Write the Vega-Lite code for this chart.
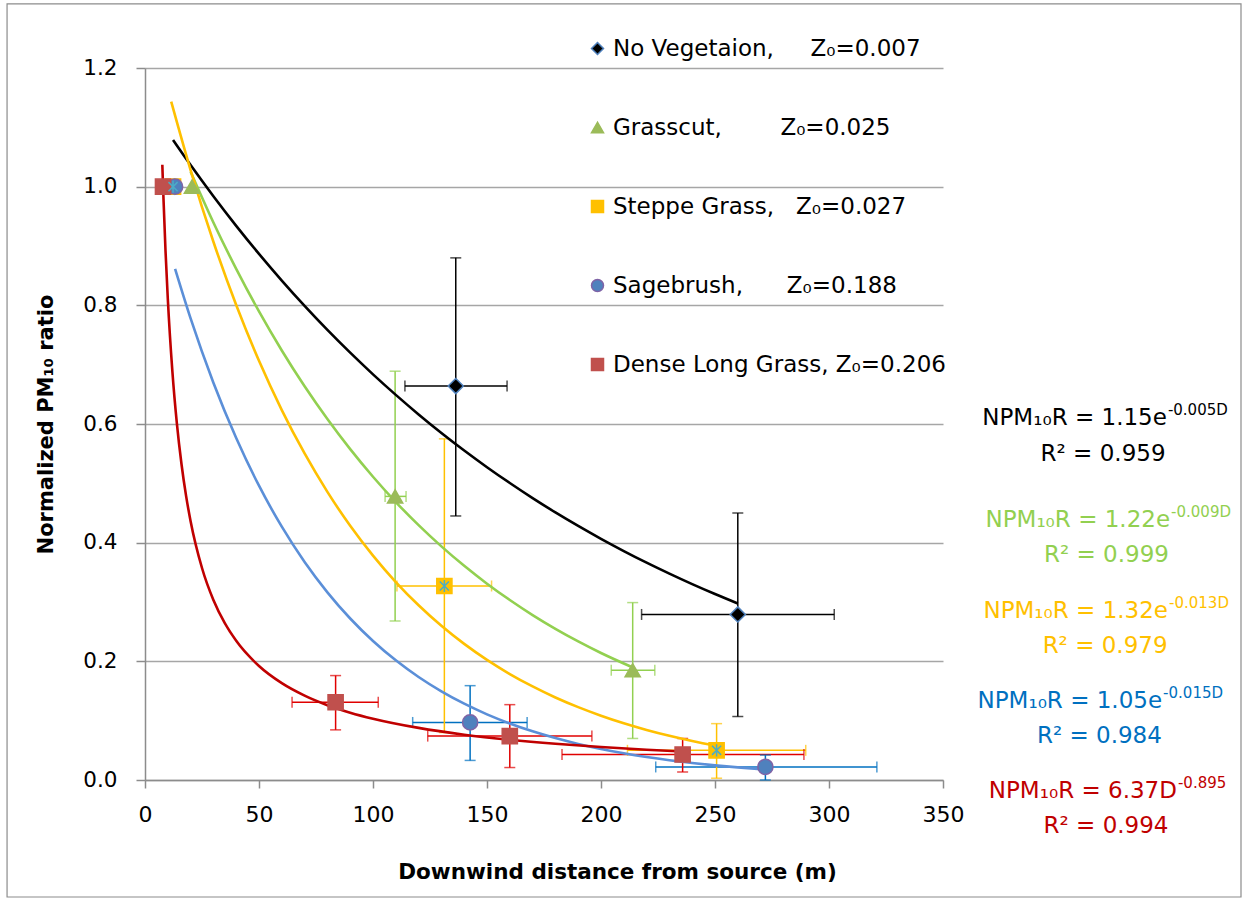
{
  "$schema": "https://vega.github.io/schema/vega-lite/v6.json",
  "width": 798,
  "height": 712,
  "autosize": {"type": "none"},
  "padding": {"left": 145, "top": 68, "right": 307, "bottom": 127},
  "background": "white",
  "config": {
    "view": {"stroke": null},
    "font": "DejaVu Sans",
    "axis": {"domainColor": "#8C8C8C", "tickColor": "#8C8C8C", "gridColor": "#A6A6A6", "gridWidth": 1.5, "domainWidth": 1.5, "tickWidth": 1.5, "labelColor": "#000000", "titleColor": "#000000"}
  },
  "datasets": {
    "pts": [
      {"series": "No Vegetaion", "x": 12.8, "y": 1.0},
      {"series": "No Vegetaion", "x": 136.3, "y": 0.664, "xlo": 114, "xhi": 158.8, "ylo": 0.445, "yhi": 0.88},
      {"series": "No Vegetaion", "x": 260, "y": 0.279, "xlo": 217.8, "xhi": 302.3, "ylo": 0.107, "yhi": 0.45},
      {"series": "Grasscut", "x": 20.6, "y": 1.0},
      {"series": "Grasscut", "x": 109.7, "y": 0.478, "xlo": 105.3, "xhi": 114.5, "ylo": 0.268, "yhi": 0.689},
      {"series": "Grasscut", "x": 213.9, "y": 0.185, "xlo": 204.5, "xhi": 223.6, "ylo": 0.07, "yhi": 0.299},
      {"series": "Steppe Grass", "x": 12.3, "y": 1.0},
      {"series": "Steppe Grass", "x": 131.3, "y": 0.327, "xlo": 110.5, "xhi": 152, "ylo": 0.08, "yhi": 0.575},
      {"series": "Steppe Grass", "x": 250.7, "y": 0.05, "xlo": 211.6, "xhi": 289.8, "ylo": 0.003, "yhi": 0.095},
      {"series": "Sagebrush", "x": 13.2, "y": 1.0},
      {"series": "Sagebrush", "x": 142.6, "y": 0.097, "xlo": 117.4, "xhi": 167.6, "ylo": 0.033, "yhi": 0.159},
      {"series": "Sagebrush", "x": 272.1, "y": 0.022, "xlo": 224, "xhi": 321, "ylo": 0.0, "yhi": 0.042},
      {"series": "Dense Long Grass", "x": 7.9, "y": 1.0},
      {"series": "Dense Long Grass", "x": 83.6, "y": 0.131, "xlo": 64.5, "xhi": 102.3, "ylo": 0.0845, "yhi": 0.176},
      {"series": "Dense Long Grass", "x": 160, "y": 0.074, "xlo": 124, "xhi": 196, "ylo": 0.021, "yhi": 0.127},
      {"series": "Dense Long Grass", "x": 235.8, "y": 0.043, "xlo": 182.9, "xhi": 289, "ylo": 0.0135, "yhi": 0.07}
    ],
    "fit": [
      {"series": "No Vegetaion", "x": 12.3, "y": 1.0787}, {"series": "No Vegetaion", "x": 20, "y": 1.0364}, {"series": "No Vegetaion", "x": 30, "y": 0.9839}, {"series": "No Vegetaion", "x": 40, "y": 0.934}, {"series": "No Vegetaion", "x": 50, "y": 0.8867}, {"series": "No Vegetaion", "x": 60, "y": 0.8418}, {"series": "No Vegetaion", "x": 70, "y": 0.7991}, {"series": "No Vegetaion", "x": 80, "y": 0.7586}, {"series": "No Vegetaion", "x": 90, "y": 0.7202}, {"series": "No Vegetaion", "x": 100, "y": 0.6837}, {"series": "No Vegetaion", "x": 110, "y": 0.6491}, {"series": "No Vegetaion", "x": 120, "y": 0.6162}, {"series": "No Vegetaion", "x": 130, "y": 0.5849}, {"series": "No Vegetaion", "x": 140, "y": 0.5553}, {"series": "No Vegetaion", "x": 150, "y": 0.5272}, {"series": "No Vegetaion", "x": 160, "y": 0.5005}, {"series": "No Vegetaion", "x": 170, "y": 0.4751}, {"series": "No Vegetaion", "x": 180, "y": 0.451}, {"series": "No Vegetaion", "x": 190, "y": 0.4282}, {"series": "No Vegetaion", "x": 200, "y": 0.4065}, {"series": "No Vegetaion", "x": 210, "y": 0.3859}, {"series": "No Vegetaion", "x": 220, "y": 0.3663}, {"series": "No Vegetaion", "x": 230, "y": 0.3478}, {"series": "No Vegetaion", "x": 240, "y": 0.3301}, {"series": "No Vegetaion", "x": 250, "y": 0.3134}, {"series": "No Vegetaion", "x": 260, "y": 0.2975},
      {"series": "Grasscut", "x": 20, "y": 1.0252}, {"series": "Grasscut", "x": 30, "y": 0.9397}, {"series": "Grasscut", "x": 40, "y": 0.8614}, {"series": "Grasscut", "x": 50, "y": 0.7897}, {"series": "Grasscut", "x": 60, "y": 0.7239}, {"series": "Grasscut", "x": 70, "y": 0.6635}, {"series": "Grasscut", "x": 80, "y": 0.6083}, {"series": "Grasscut", "x": 90, "y": 0.5576}, {"series": "Grasscut", "x": 100, "y": 0.5111}, {"series": "Grasscut", "x": 110, "y": 0.4685}, {"series": "Grasscut", "x": 120, "y": 0.4295}, {"series": "Grasscut", "x": 130, "y": 0.3937}, {"series": "Grasscut", "x": 140, "y": 0.3609}, {"series": "Grasscut", "x": 150, "y": 0.3308}, {"series": "Grasscut", "x": 160, "y": 0.3033}, {"series": "Grasscut", "x": 170, "y": 0.278}, {"series": "Grasscut", "x": 180, "y": 0.2548}, {"series": "Grasscut", "x": 190, "y": 0.2336}, {"series": "Grasscut", "x": 200, "y": 0.2141}, {"series": "Grasscut", "x": 214, "y": 0.1896},
      {"series": "Steppe Grass", "x": 11.5, "y": 1.1433}, {"series": "Steppe Grass", "x": 20, "y": 1.028}, {"series": "Steppe Grass", "x": 30, "y": 0.9072}, {"series": "Steppe Grass", "x": 40, "y": 0.8006}, {"series": "Steppe Grass", "x": 50, "y": 0.7065}, {"series": "Steppe Grass", "x": 60, "y": 0.6235}, {"series": "Steppe Grass", "x": 70, "y": 0.5503}, {"series": "Steppe Grass", "x": 80, "y": 0.4856}, {"series": "Steppe Grass", "x": 90, "y": 0.4285}, {"series": "Steppe Grass", "x": 100, "y": 0.3782}, {"series": "Steppe Grass", "x": 110, "y": 0.3337}, {"series": "Steppe Grass", "x": 120, "y": 0.2945}, {"series": "Steppe Grass", "x": 130, "y": 0.2599}, {"series": "Steppe Grass", "x": 140, "y": 0.2294}, {"series": "Steppe Grass", "x": 150, "y": 0.2024}, {"series": "Steppe Grass", "x": 160, "y": 0.1786}, {"series": "Steppe Grass", "x": 170, "y": 0.1577}, {"series": "Steppe Grass", "x": 180, "y": 0.1391}, {"series": "Steppe Grass", "x": 190, "y": 0.1228}, {"series": "Steppe Grass", "x": 200, "y": 0.1084}, {"series": "Steppe Grass", "x": 210, "y": 0.0956}, {"series": "Steppe Grass", "x": 220, "y": 0.0844}, {"series": "Steppe Grass", "x": 230, "y": 0.0745}, {"series": "Steppe Grass", "x": 240, "y": 0.0657}, {"series": "Steppe Grass", "x": 251, "y": 0.0573},
      {"series": "Sagebrush", "x": 13.2, "y": 0.8614}, {"series": "Sagebrush", "x": 20, "y": 0.7779}, {"series": "Sagebrush", "x": 30, "y": 0.6695}, {"series": "Sagebrush", "x": 40, "y": 0.5763}, {"series": "Sagebrush", "x": 50, "y": 0.496}, {"series": "Sagebrush", "x": 60, "y": 0.4269}, {"series": "Sagebrush", "x": 70, "y": 0.3674}, {"series": "Sagebrush", "x": 80, "y": 0.3163}, {"series": "Sagebrush", "x": 90, "y": 0.2722}, {"series": "Sagebrush", "x": 100, "y": 0.2343}, {"series": "Sagebrush", "x": 110, "y": 0.2017}, {"series": "Sagebrush", "x": 120, "y": 0.1736}, {"series": "Sagebrush", "x": 130, "y": 0.1494}, {"series": "Sagebrush", "x": 140, "y": 0.1286}, {"series": "Sagebrush", "x": 150, "y": 0.1107}, {"series": "Sagebrush", "x": 160, "y": 0.0953}, {"series": "Sagebrush", "x": 170, "y": 0.082}, {"series": "Sagebrush", "x": 180, "y": 0.0706}, {"series": "Sagebrush", "x": 190, "y": 0.0607}, {"series": "Sagebrush", "x": 200, "y": 0.0523}, {"series": "Sagebrush", "x": 210, "y": 0.045}, {"series": "Sagebrush", "x": 220, "y": 0.0387}, {"series": "Sagebrush", "x": 230, "y": 0.0333}, {"series": "Sagebrush", "x": 240, "y": 0.0287}, {"series": "Sagebrush", "x": 250, "y": 0.0247}, {"series": "Sagebrush", "x": 260, "y": 0.0213}, {"series": "Sagebrush", "x": 272, "y": 0.0178},
      {"series": "Dense Long Grass", "x": 7.6, "y": 1.037}, {"series": "Dense Long Grass", "x": 8, "y": 0.9906}, {"series": "Dense Long Grass", "x": 9, "y": 0.8915}, {"series": "Dense Long Grass", "x": 10, "y": 0.8112}, {"series": "Dense Long Grass", "x": 12, "y": 0.6891}, {"series": "Dense Long Grass", "x": 14, "y": 0.6002}, {"series": "Dense Long Grass", "x": 16, "y": 0.5326}, {"series": "Dense Long Grass", "x": 18, "y": 0.4793}, {"series": "Dense Long Grass", "x": 20, "y": 0.4362}, {"series": "Dense Long Grass", "x": 25, "y": 0.3573}, {"series": "Dense Long Grass", "x": 30, "y": 0.3034}, {"series": "Dense Long Grass", "x": 35, "y": 0.2643}, {"series": "Dense Long Grass", "x": 40, "y": 0.2345}, {"series": "Dense Long Grass", "x": 50, "y": 0.1921}, {"series": "Dense Long Grass", "x": 60, "y": 0.1632}, {"series": "Dense Long Grass", "x": 70, "y": 0.1422}, {"series": "Dense Long Grass", "x": 80, "y": 0.1261}, {"series": "Dense Long Grass", "x": 90, "y": 0.1135}, {"series": "Dense Long Grass", "x": 100, "y": 0.1033}, {"series": "Dense Long Grass", "x": 120, "y": 0.0878}, {"series": "Dense Long Grass", "x": 140, "y": 0.0764}, {"series": "Dense Long Grass", "x": 160, "y": 0.0678}, {"series": "Dense Long Grass", "x": 180, "y": 0.061}, {"series": "Dense Long Grass", "x": 200, "y": 0.0555}, {"series": "Dense Long Grass", "x": 220, "y": 0.051}, {"series": "Dense Long Grass", "x": 236, "y": 0.0479}
    ]
  },
  "resolve": {"scale": {"color": "independent"}},
  "layer": [
    {
      "data": {"name": "pts"},
      "transform": [{"filter": "isValid(datum.xlo)"}],
      "mark": {"type": "rule", "strokeWidth": 1.5},
      "encoding": {
        "x": {"field": "xlo", "type": "quantitative", "scale": {"domain": [0, 350], "nice": false, "zero": false},
          "axis": {"values": [0, 50, 100, 150, 200, 250, 300, 350], "grid": false, "tickSize": 8, "labelFont": "DejaVu Sans", "labelFontSize": 22, "labelPadding": 16, "labelFlush": false, "labelOverlap": false, "title": "Downwind distance from source (m)", "titleFont": "DejaVu Sans", "titleFontSize": 21.5, "titleFontWeight": "bold", "titleX": 472, "titleY": 98, "titleBaseline": "alphabetic", "titleAlign": "center"}},
        "x2": {"field": "xhi"},
        "y": {"field": "y", "type": "quantitative", "scale": {"domain": [0, 1.2], "nice": false, "zero": false},
          "axis": {"values": [0, 0.2, 0.4, 0.6, 0.8, 1.0, 1.2], "format": ".1f", "grid": true, "tickSize": 9, "labelFont": "DejaVu Sans", "labelFontSize": 21.5, "labelPadding": 19, "labelFlush": false, "labelOverlap": false, "title": "Normalized PM₁₀ ratio", "titleFont": "DejaVu Sans", "titleFontSize": 21, "titleFontWeight": "bold", "titlePadding": 26}},
        "color": {"field": "series", "type": "nominal", "legend": null,
          "scale": {"domain": ["No Vegetaion", "Grasscut", "Steppe Grass", "Sagebrush", "Dense Long Grass"], "range": ["#000000", "#92D050", "#FFC000", "#0070C0", "#E00000"]}}
      }
    },
    {
      "data": {"values": [{"f": 1}]},
      "mark": {"type": "rect", "fill": null, "stroke": "#8C8C8C", "strokeWidth": 1.2},
      "encoding": {
        "x": {"datum": -60.5, "type": "quantitative", "scale": {"domain": [0, 350], "nice": false, "zero": false}},
        "x2": {"datum": 480.7},
        "y": {"datum": 1.3081, "type": "quantitative", "scale": {"domain": [0, 1.2], "nice": false, "zero": false}},
        "y2": {"datum": -0.1972}
      }
    },
    {
      "data": {"name": "pts"},
      "transform": [{"filter": "isValid(datum.ylo)"}],
      "mark": {"type": "rule", "strokeWidth": 1.5},
      "encoding": {
        "x": {"field": "x", "type": "quantitative", "scale": {"domain": [0, 350], "nice": false, "zero": false}},
        "y": {"field": "ylo", "type": "quantitative", "scale": {"domain": [0, 1.2], "nice": false, "zero": false}},
        "y2": {"field": "yhi"},
        "color": {"field": "series", "type": "nominal", "legend": null,
          "scale": {"domain": ["No Vegetaion", "Grasscut", "Steppe Grass", "Sagebrush", "Dense Long Grass"], "range": ["#000000", "#92D050", "#FFC000", "#0070C0", "#E00000"]}}
      }
    },
    {
      "data": {"name": "pts"},
      "transform": [{"filter": "isValid(datum.xlo)"}, {"fold": ["xlo", "xhi"], "as": ["k", "v"]}],
      "mark": {"type": "tick", "orient": "vertical", "size": 11, "thickness": 1.5},
      "encoding": {
        "x": {"field": "v", "type": "quantitative", "scale": {"domain": [0, 350], "nice": false, "zero": false}},
        "y": {"field": "y", "type": "quantitative", "scale": {"domain": [0, 1.2], "nice": false, "zero": false}},
        "color": {"field": "series", "type": "nominal", "legend": null,
          "scale": {"domain": ["No Vegetaion", "Grasscut", "Steppe Grass", "Sagebrush", "Dense Long Grass"], "range": ["#000000", "#92D050", "#FFC000", "#0070C0", "#E00000"]}}
      }
    },
    {
      "data": {"name": "pts"},
      "transform": [{"filter": "isValid(datum.ylo)"}, {"fold": ["ylo", "yhi"], "as": ["k", "v"]}],
      "mark": {"type": "tick", "orient": "horizontal", "size": 11, "thickness": 1.5},
      "encoding": {
        "x": {"field": "x", "type": "quantitative", "scale": {"domain": [0, 350], "nice": false, "zero": false}},
        "y": {"field": "v", "type": "quantitative", "scale": {"domain": [0, 1.2], "nice": false, "zero": false}},
        "color": {"field": "series", "type": "nominal", "legend": null,
          "scale": {"domain": ["No Vegetaion", "Grasscut", "Steppe Grass", "Sagebrush", "Dense Long Grass"], "range": ["#000000", "#92D050", "#FFC000", "#0070C0", "#E00000"]}}
      }
    },
    {
      "data": {"name": "fit"},
      "mark": {"type": "line", "strokeWidth": 2.6, "interpolate": "monotone"},
      "encoding": {
        "x": {"field": "x", "type": "quantitative", "scale": {"domain": [0, 350], "nice": false, "zero": false}},
        "y": {"field": "y", "type": "quantitative", "scale": {"domain": [0, 1.2], "nice": false, "zero": false}},
        "color": {"field": "series", "type": "nominal", "legend": null,
          "scale": {"domain": ["No Vegetaion", "Grasscut", "Steppe Grass", "Sagebrush", "Dense Long Grass"], "range": ["#000000", "#92D050", "#FFC000", "#5B8FD8", "#C00000"]}}
      }
    },
    {
      "data": {"name": "pts"},
      "mark": {"type": "point", "filled": true, "size": 230, "strokeWidth": 1.5, "opacity": 1},
      "encoding": {
        "x": {"field": "x", "type": "quantitative", "scale": {"domain": [0, 350], "nice": false, "zero": false}},
        "y": {"field": "y", "type": "quantitative", "scale": {"domain": [0, 1.2], "nice": false, "zero": false}},
        "fill": {"field": "series", "type": "nominal",
          "scale": {"domain": ["No Vegetaion", "Grasscut", "Steppe Grass", "Sagebrush", "Dense Long Grass"], "range": ["#000000", "#9BBB59", "#FFC000", "#4F81BD", "#C0504D"]},
          "legend": {"title": null, "orient": "none", "legendX": 441, "legendY": -31, "symbolSize": 144, "symbolStrokeWidth": 1.5, "labelFont": "DejaVu Sans", "labelFontSize": 23, "labelColor": "#000000", "rowPadding": 55, "labelOffset": 4, "labelLimit": 0,
            "labelExpr": "datum.label == 'No Vegetaion' ? 'No Vegetaion,\u00a0\u00a0\u00a0\u00a0\u00a0Z₀=0.007' : datum.label == 'Grasscut' ? 'Grasscut,\u00a0\u00a0\u00a0\u00a0\u00a0\u00a0\u00a0\u00a0Z₀=0.025' : datum.label == 'Steppe Grass' ? 'Steppe Grass,\u00a0\u00a0\u00a0Z₀=0.027' : datum.label == 'Sagebrush' ? 'Sagebrush,\u00a0\u00a0\u00a0\u00a0\u00a0\u00a0Z₀=0.188' : 'Dense Long Grass,\u00a0Z₀=0.206'"}},
        "stroke": {"field": "series", "type": "nominal",
          "scale": {"domain": ["No Vegetaion", "Grasscut", "Steppe Grass", "Sagebrush", "Dense Long Grass"], "range": ["#4F81BD", "#9BBB59", "#FFC000", "#7F63A6", "#C0504D"]},
          "legend": {"title": null, "orient": "none", "legendX": 441, "legendY": -31, "symbolSize": 144, "symbolStrokeWidth": 1.5, "labelFont": "DejaVu Sans", "labelFontSize": 23, "labelColor": "#000000", "rowPadding": 55, "labelOffset": 4, "labelLimit": 0,
            "labelExpr": "datum.label == 'No Vegetaion' ? 'No Vegetaion,\u00a0\u00a0\u00a0\u00a0\u00a0Z₀=0.007' : datum.label == 'Grasscut' ? 'Grasscut,\u00a0\u00a0\u00a0\u00a0\u00a0\u00a0\u00a0\u00a0Z₀=0.025' : datum.label == 'Steppe Grass' ? 'Steppe Grass,\u00a0\u00a0\u00a0Z₀=0.027' : datum.label == 'Sagebrush' ? 'Sagebrush,\u00a0\u00a0\u00a0\u00a0\u00a0\u00a0Z₀=0.188' : 'Dense Long Grass,\u00a0Z₀=0.206'"}},
        "shape": {"field": "series", "type": "nominal",
          "scale": {"domain": ["No Vegetaion", "Grasscut", "Steppe Grass", "Sagebrush", "Dense Long Grass"], "range": ["diamond", "triangle-up", "square", "circle", "square"]},
          "legend": {"title": null, "orient": "none", "legendX": 441, "legendY": -31, "symbolSize": 144, "symbolStrokeWidth": 1.5, "labelFont": "DejaVu Sans", "labelFontSize": 23, "labelColor": "#000000", "rowPadding": 55, "labelOffset": 4, "labelLimit": 0,
            "labelExpr": "datum.label == 'No Vegetaion' ? 'No Vegetaion,\u00a0\u00a0\u00a0\u00a0\u00a0Z₀=0.007' : datum.label == 'Grasscut' ? 'Grasscut,\u00a0\u00a0\u00a0\u00a0\u00a0\u00a0\u00a0\u00a0Z₀=0.025' : datum.label == 'Steppe Grass' ? 'Steppe Grass,\u00a0\u00a0\u00a0Z₀=0.027' : datum.label == 'Sagebrush' ? 'Sagebrush,\u00a0\u00a0\u00a0\u00a0\u00a0\u00a0Z₀=0.188' : 'Dense Long Grass,\u00a0Z₀=0.206'"}}
      }
    },
    {
      "data": {"name": "pts"},
      "transform": [{"filter": "datum.series == 'Steppe Grass'"}],
      "mark": {"type": "point", "filled": false, "size": 230, "strokeWidth": 1.5, "stroke": "#4BACC6", "opacity": 1, "shape": "M-0.6,-0.6L0.6,0.6M0.6,-0.6L-0.6,0.6M0,-0.8L0,0.8"},
      "encoding": {
        "x": {"field": "x", "type": "quantitative", "scale": {"domain": [0, 350], "nice": false, "zero": false}},
        "y": {"field": "y", "type": "quantitative", "scale": {"domain": [0, 1.2], "nice": false, "zero": false}}
      }
    },
    {"data": {"values": [{"t": "NPM₁₀R = 1.15e"}]}, "mark": {"type": "text", "align": "right", "baseline": "alphabetic", "font": "DejaVu Sans", "fontSize": 23, "color": "#000000"},
      "encoding": {"x": {"datum": 448.2, "type": "quantitative", "scale": {"domain": [0, 350], "nice": false, "zero": false}}, "y": {"datum": 0.5983, "type": "quantitative", "scale": {"domain": [0, 1.2], "nice": false, "zero": false}}, "text": {"field": "t"}}},
    {"data": {"values": [{"t": "-0.005D"}]}, "mark": {"type": "text", "align": "left", "baseline": "alphabetic", "font": "DejaVu Sans", "fontSize": 15, "dy": -10, "dx": 1, "color": "#000000"},
      "encoding": {"x": {"datum": 448.2, "type": "quantitative", "scale": {"domain": [0, 350], "nice": false, "zero": false}}, "y": {"datum": 0.5983, "type": "quantitative", "scale": {"domain": [0, 1.2], "nice": false, "zero": false}}, "text": {"field": "t"}}},
    {"data": {"values": [{"t": "R² = 0.959"}]}, "mark": {"type": "text", "align": "center", "baseline": "alphabetic", "font": "DejaVu Sans", "fontSize": 23, "color": "#000000"},
      "encoding": {"x": {"datum": 420.2, "type": "quantitative", "scale": {"domain": [0, 350], "nice": false, "zero": false}}, "y": {"datum": 0.5376, "type": "quantitative", "scale": {"domain": [0, 1.2], "nice": false, "zero": false}}, "text": {"field": "t"}}},
    {"data": {"values": [{"t": "NPM₁₀R = 1.22e"}]}, "mark": {"type": "text", "align": "right", "baseline": "alphabetic", "font": "DejaVu Sans", "fontSize": 23, "color": "#92D050"},
      "encoding": {"x": {"datum": 449.6, "type": "quantitative", "scale": {"domain": [0, 350], "nice": false, "zero": false}}, "y": {"datum": 0.4269, "type": "quantitative", "scale": {"domain": [0, 1.2], "nice": false, "zero": false}}, "text": {"field": "t"}}},
    {"data": {"values": [{"t": "-0.009D"}]}, "mark": {"type": "text", "align": "left", "baseline": "alphabetic", "font": "DejaVu Sans", "fontSize": 15, "dy": -10, "dx": 1, "color": "#92D050"},
      "encoding": {"x": {"datum": 449.6, "type": "quantitative", "scale": {"domain": [0, 350], "nice": false, "zero": false}}, "y": {"datum": 0.4269, "type": "quantitative", "scale": {"domain": [0, 1.2], "nice": false, "zero": false}}, "text": {"field": "t"}}},
    {"data": {"values": [{"t": "R² = 0.999"}]}, "mark": {"type": "text", "align": "center", "baseline": "alphabetic", "font": "DejaVu Sans", "fontSize": 23, "color": "#92D050"},
      "encoding": {"x": {"datum": 421.7, "type": "quantitative", "scale": {"domain": [0, 350], "nice": false, "zero": false}}, "y": {"datum": 0.3674, "type": "quantitative", "scale": {"domain": [0, 1.2], "nice": false, "zero": false}}, "text": {"field": "t"}}},
    {"data": {"values": [{"t": "NPM₁₀R = 1.32e"}]}, "mark": {"type": "text", "align": "right", "baseline": "alphabetic", "font": "DejaVu Sans", "fontSize": 23, "color": "#FFC000"},
      "encoding": {"x": {"datum": 448.7, "type": "quantitative", "scale": {"domain": [0, 350], "nice": false, "zero": false}}, "y": {"datum": 0.2725, "type": "quantitative", "scale": {"domain": [0, 1.2], "nice": false, "zero": false}}, "text": {"field": "t"}}},
    {"data": {"values": [{"t": "-0.013D"}]}, "mark": {"type": "text", "align": "left", "baseline": "alphabetic", "font": "DejaVu Sans", "fontSize": 15, "dy": -10, "dx": 1, "color": "#FFC000"},
      "encoding": {"x": {"datum": 448.7, "type": "quantitative", "scale": {"domain": [0, 350], "nice": false, "zero": false}}, "y": {"datum": 0.2725, "type": "quantitative", "scale": {"domain": [0, 1.2], "nice": false, "zero": false}}, "text": {"field": "t"}}},
    {"data": {"values": [{"t": "R² = 0.979"}]}, "mark": {"type": "text", "align": "center", "baseline": "alphabetic", "font": "DejaVu Sans", "fontSize": 23, "color": "#FFC000"},
      "encoding": {"x": {"datum": 421.1, "type": "quantitative", "scale": {"domain": [0, 350], "nice": false, "zero": false}}, "y": {"datum": 0.214, "type": "quantitative", "scale": {"domain": [0, 1.2], "nice": false, "zero": false}}, "text": {"field": "t"}}},
    {"data": {"values": [{"t": "NPM₁₀R = 1.05e"}]}, "mark": {"type": "text", "align": "right", "baseline": "alphabetic", "font": "DejaVu Sans", "fontSize": 23, "color": "#0070C0"},
      "encoding": {"x": {"datum": 446.1, "type": "quantitative", "scale": {"domain": [0, 350], "nice": false, "zero": false}}, "y": {"datum": 0.1208, "type": "quantitative", "scale": {"domain": [0, 1.2], "nice": false, "zero": false}}, "text": {"field": "t"}}},
    {"data": {"values": [{"t": "-0.015D"}]}, "mark": {"type": "text", "align": "left", "baseline": "alphabetic", "font": "DejaVu Sans", "fontSize": 15, "dy": -10, "dx": 1, "color": "#0070C0"},
      "encoding": {"x": {"datum": 446.1, "type": "quantitative", "scale": {"domain": [0, 350], "nice": false, "zero": false}}, "y": {"datum": 0.1208, "type": "quantitative", "scale": {"domain": [0, 1.2], "nice": false, "zero": false}}, "text": {"field": "t"}}},
    {"data": {"values": [{"t": "R² = 0.984"}]}, "mark": {"type": "text", "align": "center", "baseline": "alphabetic", "font": "DejaVu Sans", "fontSize": 23, "color": "#0070C0"},
      "encoding": {"x": {"datum": 418.6, "type": "quantitative", "scale": {"domain": [0, 350], "nice": false, "zero": false}}, "y": {"datum": 0.0619, "type": "quantitative", "scale": {"domain": [0, 1.2], "nice": false, "zero": false}}, "text": {"field": "t"}}},
    {"data": {"values": [{"t": "NPM₁₀R = 6.37D"}]}, "mark": {"type": "text", "align": "right", "baseline": "alphabetic", "font": "DejaVu Sans", "fontSize": 23, "color": "#C00000"},
      "encoding": {"x": {"datum": 452.6, "type": "quantitative", "scale": {"domain": [0, 350], "nice": false, "zero": false}}, "y": {"datum": -0.0308, "type": "quantitative", "scale": {"domain": [0, 1.2], "nice": false, "zero": false}}, "text": {"field": "t"}}},
    {"data": {"values": [{"t": "-0.895"}]}, "mark": {"type": "text", "align": "left", "baseline": "alphabetic", "font": "DejaVu Sans", "fontSize": 15, "dy": -10, "dx": 1, "color": "#C00000"},
      "encoding": {"x": {"datum": 452.6, "type": "quantitative", "scale": {"domain": [0, 350], "nice": false, "zero": false}}, "y": {"datum": -0.0308, "type": "quantitative", "scale": {"domain": [0, 1.2], "nice": false, "zero": false}}, "text": {"field": "t"}}},
    {"data": {"values": [{"t": "R² = 0.994"}]}, "mark": {"type": "text", "align": "center", "baseline": "alphabetic", "font": "DejaVu Sans", "fontSize": 23, "color": "#C00000"},
      "encoding": {"x": {"datum": 421.5, "type": "quantitative", "scale": {"domain": [0, 350], "nice": false, "zero": false}}, "y": {"datum": -0.0898, "type": "quantitative", "scale": {"domain": [0, 1.2], "nice": false, "zero": false}}, "text": {"field": "t"}}}
  ]
}
